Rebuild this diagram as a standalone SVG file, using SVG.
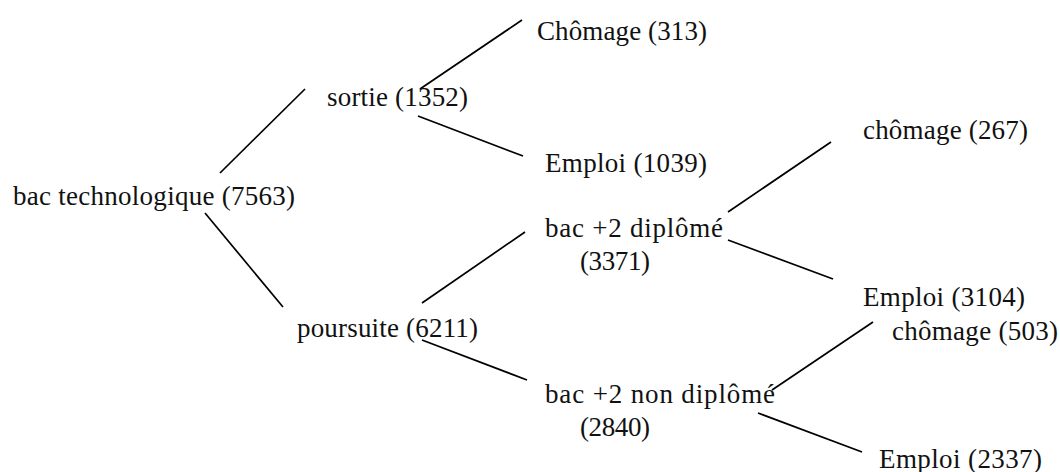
<svg xmlns="http://www.w3.org/2000/svg" width="1060" height="472" viewBox="0 0 1060 472">
  <style>
    text { font-family: "Liberation Serif", "Times New Roman", serif; font-size: 27px; fill: #111; }
    .edge { stroke: #000; stroke-width: 1.7; fill: none; }
  </style>
  <rect width="1060" height="472" fill="#fff"/>

  <!-- connectors of the tree -->
  <g id="connectors">
    <line class="edge" x1="220" y1="173" x2="305" y2="89"/>
    <line class="edge" x1="205" y1="213" x2="283" y2="307"/>
    <line class="edge" x1="420" y1="89" x2="522" y2="20"/>
    <line class="edge" x1="418" y1="116" x2="523" y2="156"/>
    <line class="edge" x1="422" y1="303" x2="525" y2="232"/>
    <line class="edge" x1="422" y1="340" x2="527" y2="380"/>
    <line class="edge" x1="728" y1="212" x2="831" y2="142"/>
    <line class="edge" x1="728" y1="240" x2="833" y2="279"/>
    <line class="edge" x1="772" y1="390" x2="873" y2="322"/>
    <line class="edge" x1="758" y1="413" x2="862" y2="452"/>
  </g>

  <g id="root"><text x="13" y="205" textLength="282">bac technologique (7563)</text></g>
  <g id="sortie"><text x="327" y="106" textLength="141">sortie (1352)</text></g>
  <g id="sortie-chomage"><text x="537" y="40" textLength="170">Chômage (313)</text></g>
  <g id="sortie-emploi"><text x="545" y="172" textLength="162">Emploi (1039)</text></g>
  <g id="poursuite"><text x="297" y="337" textLength="181">poursuite (6211)</text></g>
  <g id="diplome">
    <text x="545" y="237" textLength="178">bac +2 diplômé</text>
    <text x="580" y="270" textLength="70">(3371)</text>
  </g>
  <g id="diplome-chomage"><text x="863" y="139" textLength="165">chômage (267)</text></g>
  <g id="diplome-emploi"><text x="863" y="306" textLength="162">Emploi (3104)</text></g>
  <g id="non-diplome">
    <text x="545" y="403" textLength="230">bac +2 non diplômé</text>
    <text x="580" y="436" textLength="70">(2840)</text>
  </g>
  <g id="non-diplome-chomage"><text x="892" y="340" textLength="166">chômage (503)</text></g>
  <g id="non-diplome-emploi"><text x="879" y="468" textLength="163">Emploi (2337)</text></g>
</svg>
